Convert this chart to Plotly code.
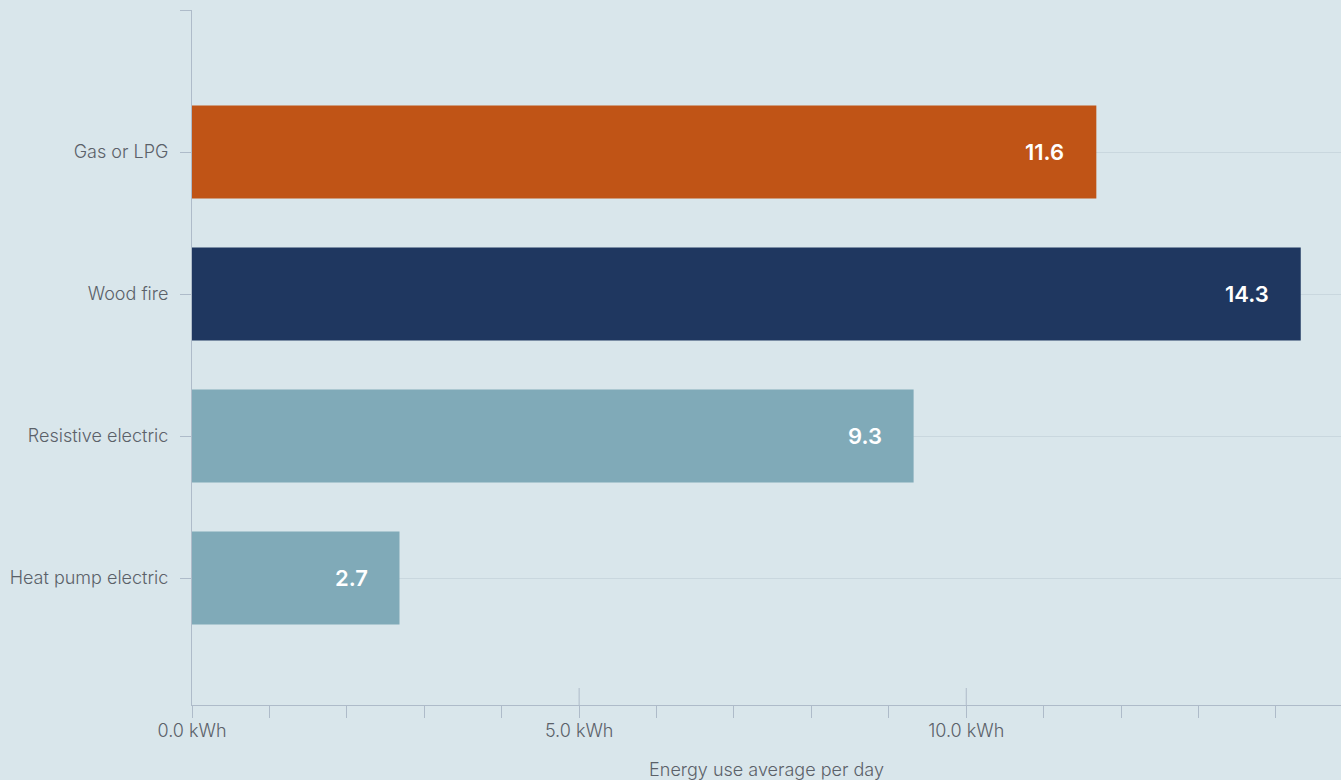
import plotly.graph_objects as go

categories = ["Gas or LPG", "Wood fire", "Resistive electric", "Heat pump electric"]
values = [11.68, 14.32, 9.32, 2.68]
value_labels = ["11.6", "14.3", "9.3", "2.7"]
bar_colors = ["#c05416", "#1f3760", "#80aab8", "#80aab8"]
x_major_ticks = [0, 5, 10]

BG = "#d9e6eb"
GRID = "#c9d7de"
AXIS = "#aebbc9"
TEXT = "#5b6169"
FONT = "Inter"

ypos = list(range(len(categories)))

fig = go.Figure()
fig.add_trace(go.Bar(
    x=values, y=ypos, orientation="h",
    marker=dict(color=bar_colors, line=dict(width=0)),
    width=0.655, hoverinfo="skip",
))

for v, y, lab in zip(values, ypos, value_labels):
    fig.add_annotation(
        x=v, y=y, text=lab, showarrow=False, xanchor="right", yanchor="middle",
        xshift=-30, font=dict(family=FONT, size=22, color="white", weight=600),
    )

# short upward ticks at major x positions (above the axis line)
for t in x_major_ticks[1:]:
    fig.add_shape(type="line", xref="x", yref="paper", x0=t, x1=t,
                  ysizemode="pixel", yanchor=0, y0=0, y1=17,
                  line=dict(color=AXIS, width=1), layer="above")

fig.update_layout(
    width=1341, height=780,
    paper_bgcolor=BG, plot_bgcolor=BG,
    margin=dict(l=192, r=0, t=10, b=75),
    showlegend=False,
    font=dict(family=FONT, color=TEXT),
    bargap=0.3,
)

fig.update_xaxes(
    range=[0, 14.84], tickvals=x_major_ticks, ticktext=[f"{t:.1f} kWh" for t in x_major_ticks],
    showgrid=False, zeroline=False,
    showline=True, linecolor=AXIS, linewidth=1,
    ticks="outside", ticklen=12, tickcolor=AXIS, tickwidth=1,
    ticklabelstandoff=-3,
    tickfont=dict(family=FONT, size=18, color=TEXT, weight=300),
    minor=dict(ticks="outside", ticklen=12, dtick=1, tick0=0, tickcolor=AXIS, tickwidth=1, showgrid=False),
    title=dict(text="Energy use average per day", standoff=27,
               font=dict(family=FONT, size=18, color=TEXT, weight=300)),
)

fig.update_yaxes(
    range=[3.894, -1.0],
    tickvals=[-1] + ypos, ticktext=[""] + categories,
    showgrid=True, gridcolor=GRID, gridwidth=1,
    zeroline=False,
    showline=True, linecolor=AXIS, linewidth=1,
    ticks="outside", ticklen=11, tickcolor=AXIS, tickwidth=1,
    ticklabelstandoff=8,
    tickfont=dict(family=FONT, size=18, color=TEXT, weight=300),
)

fig.write_html("out.html", config={"displayModeBar": False},
               post_script="document.body.style.margin='0';document.body.style.background='" + BG + "';")
